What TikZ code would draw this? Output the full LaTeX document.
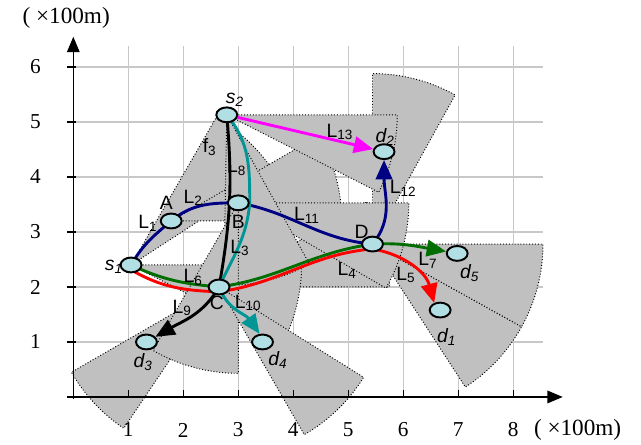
\documentclass[tikz,border=0pt]{standalone}
\usepackage{fontspec}
\setmainfont{Liberation Serif}
\setsansfont{Liberation Sans}
\usepackage{tikz}
\usetikzlibrary{shapes.geometric, arrows.meta, positioning, backgrounds}
\definecolor{beamgray}{RGB}{192,192,192}
\definecolor{gridgray}{RGB}{200,200,200}
\definecolor{nodecyan}{RGB}{178,223,228}
\definecolor{pathnavy}{RGB}{0,0,130}
\definecolor{pathmag}{RGB}{255,0,255}
\definecolor{pathteal}{RGB}{0,150,150}
\definecolor{pathgreen}{RGB}{0,110,0}
\definecolor{pathred}{RGB}{255,0,0}
\tikzset{
  stn/.style={ellipse, draw, line width=1pt, fill=nodecyan,
    minimum width=0.38cm, minimum height=0.27cm, inner sep=0pt},
  beam/.style={fill=beamgray, draw=black, densely dotted, line width=0.5pt},
  gridline/.style={draw=gridgray, line width=0.7pt},
  axisline/.style={line width=0.8pt, -{Triangle[length=8pt,width=6.5pt]}},
  tickline/.style={line width=0.8pt},
  route/.style={line width=1.5pt, -{Triangle[length=10pt,width=8.5pt]}},
  lbl/.style={font=\fontsize{10}{12}\selectfont\sffamily, inner sep=1pt},
  tck/.style={font=\fontsize{11}{13}\selectfont, inner sep=1pt},
  unit/.style={font=\fontsize{12}{14}\selectfont, inner sep=1pt}
}
\newcommand{\beamrad}{3.1}
% sector of a directional antenna: apex, start angle, end angle
\newcommand{\beam}[3]{%
  \filldraw[beam] (#1.center) -- ++(#2:\beamrad)
    arc[start angle=#2, end angle=#3, radius=\beamrad] -- cycle;}

\begin{document}
\begin{tikzpicture}
  \useasboundingbox (-1.333,-0.873) rectangle (10.322,7.218);

  % stations
  \node[stn] (s1) at (1.05,2.40) {};
  \node[stn] (A)  at (1.78,3.20) {};
  \node[stn] (B)  at (3.00,3.53) {};
  \node[stn] (s2) at (2.79,5.13) {};
  \node[stn] (C)  at (2.65,2.00) {};
  \node[stn] (D)  at (5.44,2.78) {};
  \node[stn] (d2) at (5.65,4.46) {};
  \node[stn] (d5) at (6.98,2.61) {};
  \node[stn] (d1) at (6.67,1.58) {};
  \node[stn] (d3) at (1.33,1.00) {};
  \node[stn] (d4) at (3.44,1.00) {};

  \begin{scope}[on background layer]
    \draw[gridline, step=1] (0,0) grid (8.54,6.38);
    % beams
    \beam{D}{-57}{-29}
    \beam{D}{-29}{0}
    \beam{D}{61}{90}
    \beam{C}{0}{30}
    \beam{s1}{-27}{0}
    \beam{s1}{33}{60}
    \beam{A}{0}{30}
    \beam{B}{-30}{0}
    \beam{s2}{-27}{0}
    \beam{s2}{-91}{-61}
    \beam{C}{210}{236}
    \beam{B}{240}{270}
    \beam{C}{-60}{-32}
    % axes
    \draw[axisline] (-0.11,0) -- (8.9,0);
    \draw[axisline] (0,-0.03) -- (0,6.55);
    \foreach \i in {1,...,8}
      \draw[tickline] (\i,0) -- (\i,0.13);
    \foreach \i in {1,...,6}
      \draw[tickline] (-0.11,\i) -- (0.04,\i);
    % routes
    \draw[route, pathnavy] (s1.center) to[out=60,in=220] (A.center)
      to[out=40,in=180] (B.center) to[out=-10,in=175] (D.center)
      to[out=50,in=-90] (d2);
    \draw[route, pathmag] (s2) -- (d2);
    \draw[route, black] (s2.center) to[out=-85,in=80] (C.center)
      to[out=-120,in=30] (d3);
    \draw[route, pathteal] (s2.center) to[out=-50,in=90] (B.east)
      to[out=-95,in=65] (C.center) to[out=-70,in=125] (d4.110);
    \draw[route, pathgreen] (s1.center) to[out=-25,in=175] (C.center)
      to[out=8,in=188] (D.center) to[out=3,in=170] (d5);
    \draw[route, pathred] ([yshift=-2.5pt]s1.center) to[out=-30,in=178]
      ([yshift=-2.5pt]C.center) to[out=8,in=185] ([yshift=-2.5pt]D.center)
      to[out=-10,in=105] (d1.130);
  \end{scope}

  % tick and unit labels
  \foreach \i in {1,...,8}
    \node[tck] (xt\i) at (\i,-0.6) {\i};
  \foreach \i in {1,...,6}
    \node[tck] (yt\i) at (-0.69,\i) {\i};
  \node[unit] (yunit) at (-0.13,6.89) {( ×100m)};
  \node[unit] (xunit) at (9.17,-0.6) {( ×100m)};

  % station labels
  \node[lbl] (s1l) at ([shift={(-0.31,-0.04)}]s1) {\textit{s\textsubscript{1}}};
  \node[lbl] (s2l) at ([shift={(0.15,0.27)}]s2) {\textit{s\textsubscript{2}}};
  \node[lbl] (Al)  at ([shift={(-0.09,0.33)}]A) {A};
  \node[lbl] (Bl)  at ([shift={(0,-0.35)}]B) {B};
  \node[lbl] (Cl)  at ([shift={(-0.04,-0.29)}]C) {C};
  \node[lbl] (Dl)  at ([shift={(-0.2,0.22)}]D) {D};
  \node[lbl] (d1l) at ([shift={(0.12,-0.49)}]d1) {\textit{d\textsubscript{1}}};
  \node[lbl] (d2l) at ([shift={(0.02,0.27)}]d2) {\textit{d\textsubscript{2}}};
  \node[lbl] (d3l) at ([shift={(-0.06,-0.36)}]d3) {\textit{d\textsubscript{3}}};
  \node[lbl] (d4l) at ([shift={(0.28,-0.33)}]d4) {\textit{d\textsubscript{4}}};
  \node[lbl] (d5l) at ([shift={(0.23,-0.36)}]d5) {\textit{d\textsubscript{5}}};

  % link labels
  \node[lbl] (L1)  at (1.36,3.16) {L\textsubscript{1}};
  \node[lbl] (L2)  at (2.18,3.62) {L\textsubscript{2}};
  \node[lbl] (L3)  at (3.03,2.71) {L\textsubscript{3}};
  \node[lbl] (L4)  at (4.98,2.31) {L\textsubscript{4}};
  \node[lbl] (L5)  at (6.05,2.22) {L\textsubscript{5}};
  \node[lbl] (L6)  at (2.18,2.18) {L\textsubscript{6}};
  \node[lbl] (L7)  at (6.45,2.49) {L\textsubscript{7}};
  \node[lbl] (L8)  at (2.97,4.18) {L\textsubscript{8}};
  \node[lbl] (L9)  at (1.98,1.62) {L\textsubscript{9}};
  \node[lbl] (L10) at (3.18,1.71) {L\textsubscript{10}};
  \node[lbl] (L11) at (4.25,3.31) {L\textsubscript{11}};
  \node[lbl] (L12) at (6.00,3.80) {L\textsubscript{12}};
  \node[lbl] (L13) at (4.85,4.82) {L\textsubscript{13}};
  \node[lbl] (f3)  at (2.48,4.55) {f\textsubscript{3}};
\end{tikzpicture}
\end{document}
